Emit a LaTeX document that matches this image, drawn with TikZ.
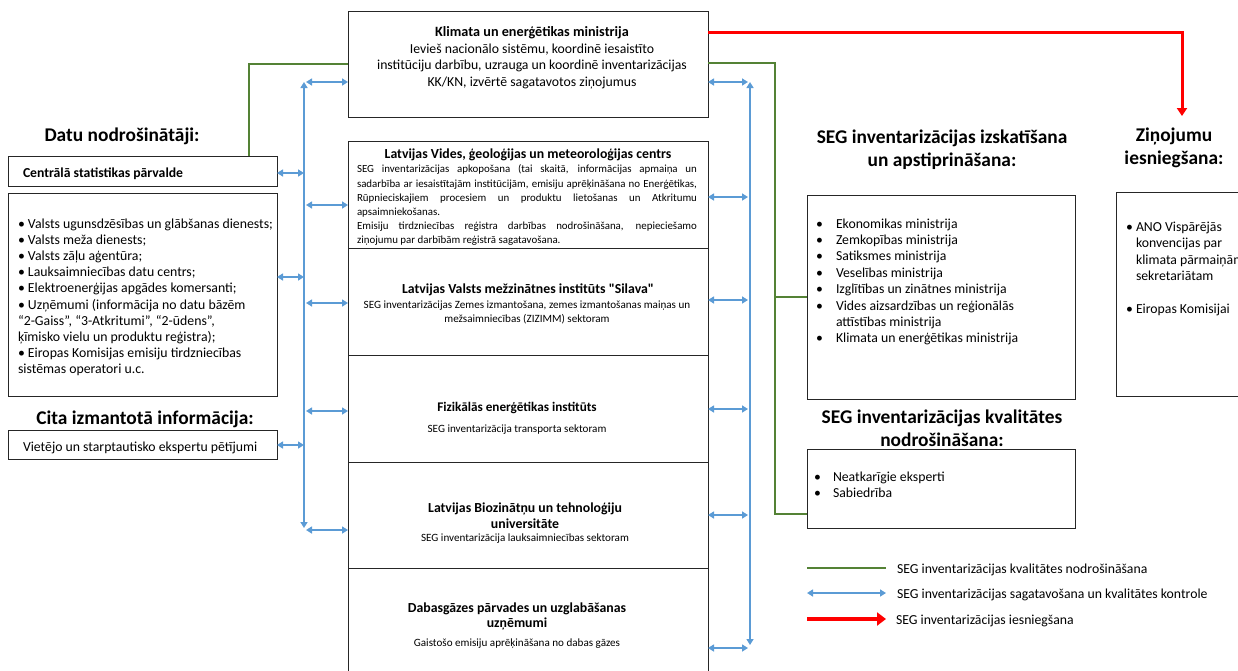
\documentclass[tikz,border=0pt]{standalone}
\usepackage{fontspec}
\setmainfont{Carlito}[Ligatures=TeXOff]
\usetikzlibrary{arrows.meta}
\definecolor{qblue}{HTML}{5B9BD5}
\definecolor{qgreen}{HTML}{548235}
\definecolor{qred}{HTML}{FF0000}
\begin{document}
\begin{tikzpicture}[x=1pt,y=-1pt,
  box/.style={draw=black!85,line width=0.9pt,inner sep=0pt,outer sep=0pt,anchor=north west},
  txt/.style={inner sep=0pt,outer sep=0pt},
  barrow/.style={draw=qblue,line width=1.8pt,{Triangle[length=6pt,width=7pt]}-{Triangle[length=6pt,width=7pt]}},
  gline/.style={draw=qgreen,line width=1.4pt},
  rarrow/.style={draw=qred,line width=3pt,-{Triangle[length=8pt,width=10pt]}},
  head/.style={txt,font=\fontsize{19.4}{23}\selectfont\bfseries,align=center},
  ttl/.style={txt,font=\fontsize{13.8}{16}\selectfont\bfseries,align=center},
  sub/.style={txt,font=\fontsize{11.1}{14}\selectfont,align=center},
  body/.style={font=\fontsize{13.75}{16.4}\selectfont},
  lst/.style={txt,anchor=north west,align=left},
]
\useasboundingbox (0,0) rectangle (1238,670);
\clip (0,0) rectangle (1238,670);

% ---------------- left column ----------------
\node[head] (hdata) at (122,136) {Datu nodrošinātāji:};
\node[box,minimum width=269,minimum height=30] (csp) at (8,156) {};
\node[txt,anchor=west,font=\fontsize{13.7}{16}\selectfont\bfseries] (csptxt) at (23,174) {Centrālā statistikas pārvalde};
\node[box,minimum width=269,minimum height=203] (prov) at (8,193) {};
\node[lst,font=\fontsize{13.8}{16.2}\selectfont] (provtxt) at (18,218.5) {%
• Valsts ugunsdzēsības un glābšanas dienests;\\
• Valsts meža dienests;\\
• Valsts zāļu aģentūra;\\
• Lauksaimniecības datu centrs;\\
• Elektroenerģijas apgādes komersanti;\\
• Uzņēmumi (informācija no datu bāzēm\\
“2-Gaiss”, “3-Atkritumi”, “2-ūdens”,\\
ķīmisko vielu un produktu reģistra);\\
• Eiropas Komisijas emisiju tirdzniecības\\
sistēmas operatori u.c.};
\node[head] (hcita) at (145,419) {Cita izmantotā informācija:};
\node[box,minimum width=269,minimum height=29] (viet) at (8,430) {};
\node[txt,anchor=west,body] (viettxt) at (23,448) {Vietējo un starptautisko ekspertu pētījumi};

% ---------------- centre column ----------------
\node[box,minimum width=360,minimum height=106] (kem) at (348,11) {};
\node[txt,anchor=north,align=center,font=\fontsize{13.75}{16.7}\selectfont] (kemtxt) at (532,26.5) {%
{\fontsize{14.2}{16.7}\selectfont\bfseries Klimata un enerģētikas ministrija}\\
Ievieš nacionālo sistēmu, koordinē iesaistīto\\
institūciju darbību, uzrauga un koordinē inventarizācijas\\
KK/KN, izvērtē sagatavotos ziņojumus};

\node[box,minimum width=360,minimum height=107] (lvgmc) at (348,141) {};
\node[ttl] (lvgmct) at (528,155) {Latvijas Vides, ģeoloģijas un meteoroloģijas centrs};
\node[lst,font=\fontsize{10.9}{14.2}\selectfont] (lvgmcb) at (357,165) {%
\makebox[340pt][s]{SEG inventarizācijas apkopošana (tai skaitā, informācijas apmaiņa un}\\
\makebox[340pt][s]{sadarbība ar iesaistītajām institūcijām, emisiju aprēķināšana no Enerģētikas,}\\
\makebox[340pt][s]{Rūpnieciskajiem procesiem un produktu lietošanas un Atkritumu}\\
apsaimniekošanas.\\
\makebox[340pt][s]{Emisiju tirdzniecības reģistra darbības nodrošināšana, nepieciešamo}\\
ziņojumu par darbībām reģistrā sagatavošana.};

\node[box,minimum width=360,minimum height=107] (silava) at (348,248) {};
\node[ttl] (silavat) at (528,289.5) {Latvijas Valsts mežzinātnes institūts "Silava"};
\node[sub,anchor=north] (silavas) at (527,301) {SEG inventarizācijas Zemes izmantošana, zemes izmantošanas maiņas un\\mežsaimniecības (ZIZIMM) sektoram};

\node[box,minimum width=360,minimum height=107] (fei) at (348,355) {};
\node[ttl,font=\fontsize{13.2}{16}\selectfont\bfseries] (feit) at (517,408) {Fizikālās enerģētikas institūts};
\node[sub] (feis) at (517,430) {SEG inventarizācija transporta sektoram};

\node[box,minimum width=360,minimum height=106] (lbtu) at (348,462) {};
\node[ttl,anchor=north] (lbtut) at (525,502.5) {Latvijas Biozinātņu un tehnoloģiju\\universitāte};
\node[sub] (lbtus) at (525,539) {SEG inventarizācija lauksaimniecības sektoram};

\node[box,minimum width=360,minimum height=130] (dab) at (348,568) {};
\node[ttl,anchor=north,font=\fontsize{13.8}{15.5}\selectfont\bfseries] (dabt) at (517,602.5) {Dabasgāzes pārvades un uzglabāšanas\\uzņēmumi};
\node[sub] (dabs) at (517,644) {Gaistošo emisiju aprēķināšana no dabas gāzes};

% ---------------- right column ----------------
\node[head] (happr) at (942,149.5) {SEG inventarizācijas izskatīšana\\un apstiprināšana:};
\node[box,minimum width=268,minimum height=204] (appr) at (807,195) {};
\node[lst,body] (apprtxt) at (816,218.5) {%
\makebox[20pt][l]{•}Ekonomikas ministrija\\
\makebox[20pt][l]{•}Zemkopības ministrija\\
\makebox[20pt][l]{•}Satiksmes ministrija\\
\makebox[20pt][l]{•}Veselības ministrija\\
\makebox[20pt][l]{•}Izglītības un zinātnes ministrija\\
\makebox[20pt][l]{•}Vides aizsardzības un reģionālās\\
\hspace*{20pt}attīstības ministrija\\
\makebox[20pt][l]{•}Klimata un enerģētikas ministrija};

\node[head] (hrep) at (1174,147.5) {Ziņojumu\\iesniegšana:};
\node[box,minimum width=150,minimum height=204] (rep) at (1116,192) {};
\node[lst,body] (reptxt) at (1126,222) {%
\makebox[10pt][l]{•}ANO Vispārējās\\
\hspace*{10pt}konvencijas par\\
\hspace*{10pt}klimata pārmaiņām\\
\hspace*{10pt}sekretariātam\\[16.4pt]
\makebox[10pt][l]{•}Eiropas Komisijai};

\node[head] (hqa) at (942,428) {SEG inventarizācijas kvalitātes\\nodrošināšana:};
\node[box,minimum width=268,minimum height=79] (qa) at (807,449) {};
\node[lst,body] (qatxt) at (814,472) {%
\makebox[19pt][l]{•}Neatkarīgie eksperti\\
\makebox[19pt][l]{•}Sabiedrība};

% ---------------- connectors ----------------
% left bus
\coordinate (lbT) at (304,82);
\coordinate (lbB) at (304,528);
\draw[barrow] (lbT) -- (lbB);
\coordinate (lb1) at (306,82);
\coordinate (lb2) at (304,173);
\coordinate (lb3) at (306,205);
\coordinate (lb4) at (304,277);
\coordinate (lb5) at (306,303);
\coordinate (lb6) at (306,411);
\coordinate (lb7) at (304,445);
\coordinate (lb8) at (306,530);
\draw[barrow] (lb1) -- (kem.west |- lb1);
\draw[barrow] (csp.east |- lb2) -- (lb2);
\draw[barrow] (lb3) -- (lvgmc.west |- lb3);
\draw[barrow] (prov.east |- lb4) -- (lb4);
\draw[barrow] (lb5) -- (silava.west |- lb5);
\draw[barrow] (lb6) -- (fei.west |- lb6);
\draw[barrow] (viet.east |- lb7) -- (lb7);
\draw[barrow] (lb8) -- (lbtu.west |- lb8);

% right bus
\coordinate (rbT) at (750,82);
\coordinate (rbB) at (750,645);
\draw[barrow] (rbT) -- (rbB);
\coordinate (rb1) at (748,82);
\coordinate (rb2) at (748,197);
\coordinate (rb3) at (748,300);
\coordinate (rb4) at (748,409);
\coordinate (rb5) at (748,515);
\coordinate (rb6) at (748,648);
\draw[barrow] (kem.east |- rb1) -- (rb1);
\draw[barrow] (lvgmc.east |- rb2) -- (rb2);
\draw[barrow] (silava.east |- rb3) -- (rb3);
\draw[barrow] (fei.east |- rb4) -- (rb4);
\draw[barrow] (lbtu.east |- rb5) -- (rb5);
\draw[barrow] (dab.east |- rb6) -- (rb6);

% green quality-assurance lines
\coordinate (gl) at (249,64);
\draw[gline] (kem.west |- gl) -- (gl) -- (gl |- csp.north);
\coordinate (gr) at (775,63);
\coordinate (grb) at (775,514);
\draw[gline] (kem.east |- gr) -- (gr) -- (grb) -- (qa.west |- grb);
\draw[gline] (gr |- appr.west) -- (appr.west);

% red submission arrow
\coordinate (r1) at (1182,32);
\coordinate (r2) at (1182,116);
\draw[rarrow,line join=miter] (kem.east |- r1) -- (r1) -- (r2);

% ---------------- legend ----------------
\node[txt,anchor=west,body] (lt1) at (897,570) {SEG inventarizācijas kvalitātes nodrošināšana};
\node[txt,anchor=west,body] (lt2) at (897,595) {SEG inventarizācijas sagatavošana un kvalitātes kontrole};
\node[txt,anchor=west,body] (lt3) at (896,621) {SEG inventarizācijas iesniegšana};
\coordinate (la1) at (807,568);
\coordinate (la2) at (807,593);
\coordinate (la3) at (807,619);
\coordinate (lb1e) at (886,568);
\coordinate (lb2e) at (886,593);
\coordinate (lb3e) at (886,619);
\draw[gline] (la1) -- (lb1e);
\draw[barrow] (la2) -- (lb2e);
\draw[rarrow,line width=4pt,-{Triangle[length=9pt,width=13pt]}] (la3) -- (lb3e);
\end{tikzpicture}
\end{document}
